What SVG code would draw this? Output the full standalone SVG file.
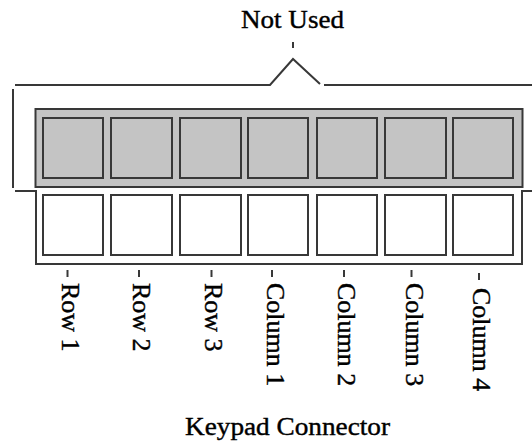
<svg xmlns="http://www.w3.org/2000/svg" width="532" height="442" viewBox="0 0 532 442">
<style>
.ln{fill:none;stroke:#383838;stroke-width:2}
.g{fill:#c4c4c4;stroke:#383838;stroke-width:2}
.w{fill:#ffffff;stroke:#383838;stroke-width:2}
.t{font-family:"Liberation Serif","Times New Roman",serif;font-size:26px;fill:#000;stroke:#000;stroke-width:0.4}
</style>
<rect width="532" height="442" fill="#ffffff"/>
<g id="connectors">
<polyline class="ln" points="15,85 270,85 293,59 320,84"/>
<line class="ln" x1="324" y1="85" x2="532" y2="85"/>
<line class="ln" x1="293" y1="42" x2="293" y2="48"/>
<line class="ln" x1="13" y1="89" x2="13" y2="188"/>
<polyline class="ln" points="15,191 36,191 36,264 522,264 522,191 532,191"/>
<line class="ln" x1="67.5" y1="270" x2="67.5" y2="277"/>
<line class="ln" x1="139" y1="270" x2="139" y2="277"/>
<line class="ln" x1="211.5" y1="270" x2="211.5" y2="277"/>
<line class="ln" x1="272" y1="270" x2="272" y2="277"/>
<line class="ln" x1="344" y1="270" x2="344" y2="277"/>
<line class="ln" x1="411.5" y1="270" x2="411.5" y2="277"/>
<line class="ln" x1="479" y1="273" x2="479" y2="280"/>
</g>
<g id="notused">
<rect class="g" x="35.5" y="109" width="487" height="78"/>
<rect class="g" x="43" y="118" width="60" height="60"/>
<rect class="g" x="111" y="118" width="61" height="60"/>
<rect class="g" x="180" y="118" width="61" height="60"/>
<rect class="g" x="248" y="118" width="60" height="60"/>
<rect class="g" x="317" y="118" width="60" height="60"/>
<rect class="g" x="385" y="118" width="61" height="60"/>
<rect class="g" x="453" y="118" width="60" height="60"/>
</g>
<g id="pins">
<rect class="w" x="43" y="195" width="60" height="60"/>
<rect class="w" x="111" y="195" width="61" height="60"/>
<rect class="w" x="180" y="195" width="61" height="60"/>
<rect class="w" x="248" y="195" width="60" height="60"/>
<rect class="w" x="317" y="195" width="60" height="60"/>
<rect class="w" x="385" y="195" width="61" height="60"/>
<rect class="w" x="453" y="195" width="60" height="60"/>
</g>
<g id="labels">
<text class="t" x="241" y="28" textLength="103" lengthAdjust="spacingAndGlyphs">Not Used</text>
<text class="t" x="185" y="435" textLength="205" lengthAdjust="spacingAndGlyphs">Keypad Connector</text>
<text class="t" transform="translate(62,283) rotate(90)">Row 1</text>
<text class="t" transform="translate(133,283) rotate(90)">Row 2</text>
<text class="t" transform="translate(205,283) rotate(90)">Row 3</text>
<text class="t" transform="translate(267,283) rotate(90)">Column 1</text>
<text class="t" transform="translate(338,283) rotate(90)">Column 2</text>
<text class="t" transform="translate(406,283) rotate(90)">Column 3</text>
<text class="t" transform="translate(473,288) rotate(90)">Column 4</text>
</g>
</svg>
